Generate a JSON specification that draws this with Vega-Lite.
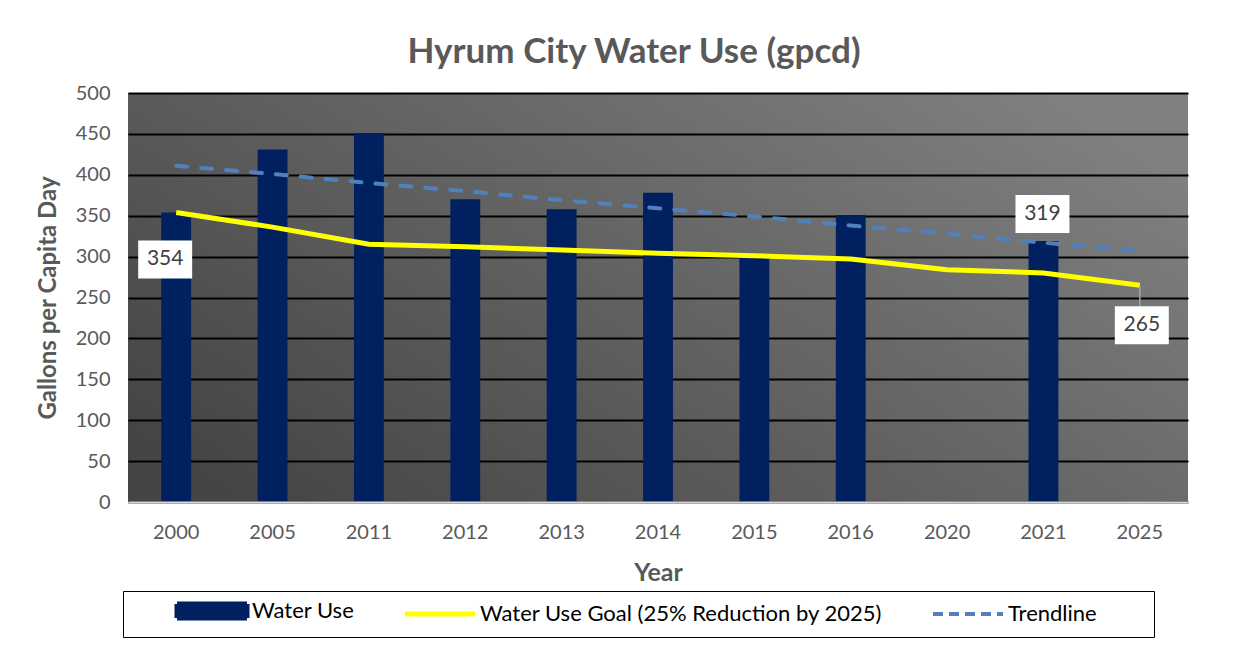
{
  "$schema": "https://vega.github.io/schema/vega-lite/v6.json",
  "autosize": {"type": "none"},
  "width": 1060,
  "height": 409,
  "padding": {"left": 128, "top": 93, "right": 71, "bottom": 148},
  "background": "white",
  "title": {
    "text": "Hyrum City Water Use (gpcd)",
    "fontSize": 35,
    "fontWeight": "bold",
    "font": "Lato",
    "color": "#595959",
    "anchor": "middle",
    "dx": -24,
    "offset": 13
  },
  "data": {
    "values": [
      {"year": "2000", "use": 354, "goal": 354, "trend": 411},
      {"year": "2005", "use": 431, "goal": 336, "trend": 401},
      {"year": "2011", "use": 451, "goal": 315, "trend": 390},
      {"year": "2012", "use": 370, "goal": 312, "trend": 380},
      {"year": "2013", "use": 358, "goal": 308, "trend": 369},
      {"year": "2014", "use": 378, "goal": 304, "trend": 359},
      {"year": "2015", "use": 301, "goal": 301, "trend": 349},
      {"year": "2016", "use": 351, "goal": 297, "trend": 338},
      {"year": "2020", "use": null, "goal": 284, "trend": 328},
      {"year": "2021", "use": 319, "goal": 280, "trend": 317},
      {"year": "2025", "use": null, "goal": 265, "trend": 307}
    ]
  },
  "encoding": {
    "x": {
      "field": "year",
      "type": "ordinal",
      "sort": null,
      "scale": {
        "domain": ["2000", "2005", "2011", "2012", "2013", "2014", "2015", "2016", "2020", "2021", "2025"],
        "paddingInner": 0,
        "paddingOuter": 0
      },
      "axis": {
        "title": "Year",
        "labelAngle": 0,
        "labelFontSize": 20,
        "labelFont": "Lato",
        "labelColor": "#595959",
        "labelPadding": 20,
        "ticks": false,
        "domainColor": "#d9d9d9",
        "domainWidth": 2,
        "titleFontSize": 25,
        "titleFont": "Lato",
        "titleFontWeight": "bold",
        "titleColor": "#595959",
        "titlePadding": 18,
        "zindex": 1
      }
    }
  },
  "layer": [
    {
      "mark": {"type": "bar", "width": {"band": 0.31}},
      "encoding": {
        "y": {
          "field": "use",
          "type": "quantitative",
          "scale": {"domain": [0, 500]},
          "axis": {
            "title": "Gallons per Capita Day",
            "values": [0, 50, 100, 150, 200, 250, 300, 350, 400, 450, 500],
            "labelFontSize": 20,
            "labelFont": "Lato",
            "labelColor": "#595959",
            "labelPadding": 18,
            "ticks": false,
            "domain": false,
            "grid": true,
            "gridColor": "#000000",
            "gridWidth": 2,
            "gridOpacity": 1,
            "titleFontSize": 24,
            "titleFont": "Lato",
            "titleFontWeight": "bold",
            "titleColor": "#595959",
            "titlePadding": 15
          }
        },
        "color": {
          "datum": "Water Use",
          "type": "nominal",
          "scale": {
            "domain": ["Water Use", "Water Use Goal (25% Reduction by 2025)", "Trendline"],
            "range": ["#002060", "#ffff00", "#4f81bd"]
          },
          "legend": {
            "title": null,
            "orient": "none",
            "legendX": -5,
            "legendY": 498,
            "direction": "horizontal",
            "columns": 3,
            "columnPadding": 5,
            "padding": 9,
            "strokeColor": "#000000",
            "fillColor": "#ffffff",
            "symbolOffset": 69,
            "labelOffset": 29,
            "labelFontSize": 22,
            "labelFont": "Lato",
            "labelColor": "#000000",
            "labelLimit": 600,
            "labelExpr": "datum.label === 'Trendline' ? 'Trendline\u2800\u2800\u2800' : datum.label",
            "symbolSize": 4900,
            "encode": {
              "symbols": {
                "update": {
                  "shape": {"signal": "datum.value === 'Water Use' ? 'M-1,-0.2H1V0.2H-1Z' : 'stroke'"},
                  "size": {"value": 4900},
                  "fill": {"signal": "datum.value === 'Water Use' ? '#002060' : 'transparent'"},
                  "stroke": {"signal": "datum.value === 'Water Use' ? 'transparent' : (datum.value === 'Trendline' ? '#4f81bd' : '#ffff00')"},
                  "strokeWidth": {"signal": "datum.value === 'Trendline' ? 4 : 5"},
                  "strokeDash": {"signal": "datum.value === 'Trendline' ? [10, 6] : [1, 0]"},
                  "opacity": {"value": 1}
                }
              }
            }
          }
        }
      }
    },
    {
      "mark": {"type": "line", "strokeWidth": 5, "strokeJoin": "round"},
      "encoding": {
        "y": {"field": "goal", "type": "quantitative"},
        "color": {"datum": "Water Use Goal (25% Reduction by 2025)", "type": "nominal"}
      }
    },
    {
      "mark": {"type": "line", "strokeWidth": 4, "strokeDash": [11, 14], "strokeCap": "round"},
      "encoding": {
        "y": {"field": "trend", "type": "quantitative"},
        "color": {"datum": "Trendline", "type": "nominal"}
      }
    },
    {
      "transform": [{"filter": "datum.year === '2025'"}],
      "mark": {"type": "rule", "color": "#a6a6a6", "strokeWidth": 1.5, "y2Offset": 21},
      "encoding": {
        "y": {"field": "goal", "type": "quantitative"},
        "y2": {"field": "goal"}
      }
    },
    {
      "transform": [{"filter": "datum.year === '2000'"}],
      "layer": [
        {
          "mark": {"type": "point", "shape": "M-1.42,-1H1.42V1H-1.42Z", "size": 1444, "filled": true, "color": "#ffffff", "opacity": 1, "xOffset": -11, "yOffset": 47},
          "encoding": {"y": {"field": "use", "type": "quantitative"}}
        },
        {
          "mark": {"type": "text", "font": "Lato", "fontSize": 21, "color": "#404040", "baseline": "middle", "align": "center", "xOffset": -11, "yOffset": 47},
          "encoding": {"y": {"field": "use", "type": "quantitative"}, "text": {"field": "use", "type": "quantitative"}}
        }
      ]
    },
    {
      "transform": [{"filter": "datum.year === '2021'"}],
      "layer": [
        {
          "mark": {"type": "point", "shape": "M-1.42,-1H1.42V1H-1.42Z", "size": 1444, "filled": true, "color": "#ffffff", "opacity": 1, "xOffset": -1, "yOffset": -27},
          "encoding": {"y": {"field": "use", "type": "quantitative"}}
        },
        {
          "mark": {"type": "text", "font": "Lato", "fontSize": 21, "color": "#404040", "baseline": "middle", "align": "center", "xOffset": -1, "yOffset": -27},
          "encoding": {"y": {"field": "use", "type": "quantitative"}, "text": {"field": "use", "type": "quantitative"}}
        }
      ]
    },
    {
      "transform": [{"filter": "datum.year === '2025'"}],
      "layer": [
        {
          "mark": {"type": "point", "shape": "M-1.42,-1H1.42V1H-1.42Z", "size": 1444, "filled": true, "color": "#ffffff", "opacity": 1, "xOffset": 2, "yOffset": 40},
          "encoding": {"y": {"field": "goal", "type": "quantitative"}}
        },
        {
          "mark": {"type": "text", "font": "Lato", "fontSize": 21, "color": "#404040", "baseline": "middle", "align": "center", "xOffset": 2, "yOffset": 40},
          "encoding": {"y": {"field": "goal", "type": "quantitative"}, "text": {"field": "goal", "type": "quantitative"}}
        }
      ]
    }
  ],
  "config": {
    "view": {
      "stroke": null,
      "fill": {
        "gradient": "linear",
        "x1": 0, "y1": 0.8, "x2": 1, "y2": 0.2,
        "stops": [
          {"offset": 0, "color": "#454545"},
          {"offset": 1, "color": "#808080"}
        ]
      }
    }
  }
}
